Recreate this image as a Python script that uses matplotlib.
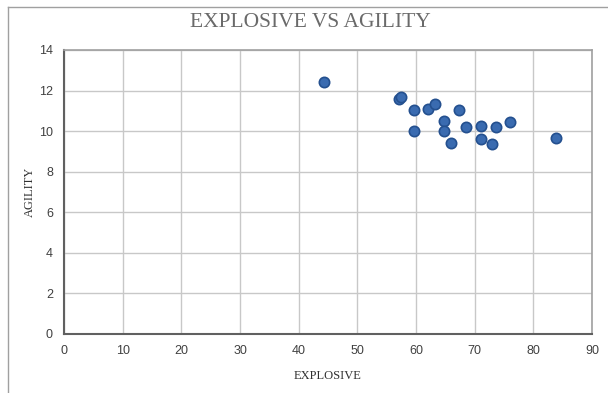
import matplotlib
matplotlib.use('Agg')
import matplotlib.pyplot as plt
from matplotlib.lines import Line2D

# scatter data
explosive = [44.3, 57.1, 57.4, 59.6, 59.6, 62.1, 63.3, 64.7, 64.7, 65.9,
             67.3, 68.5, 71.1, 71.1, 73.0, 73.7, 76.1, 83.8]
agility = [12.41, 11.59, 11.67, 11.04, 10.0, 11.11, 11.36, 10.51, 10.03, 9.42,
           11.04, 10.2, 10.23, 9.62, 9.36, 10.2, 10.43, 9.65]
x_ticks = list(range(0, 91, 10))
y_ticks = list(range(0, 15, 2))

fig = plt.figure(figsize=(6.08, 3.93), dpi=100)
ax = fig.add_axes([64/608, 1 - 334/393, (592 - 64)/608, (334 - 50)/393])

ax.scatter(explosive, agility, s=55, color='#3A6BB0', edgecolors='#24508F',
           linewidths=1.2, zorder=3)

ax.set_xlim(0, 90)
ax.set_ylim(0, 14)
ax.set_xticks(x_ticks)
ax.set_yticks(y_ticks)
ax.grid(True, color='#C8C8C8', linewidth=1, zorder=0)
ax.set_axisbelow(True)

for side in ['top', 'right']:
    ax.spines[side].set_color('#A0A0A0')
    ax.spines[side].set_linewidth(1.2)
for side in ['left', 'bottom']:
    ax.spines[side].set_color('#606060')
    ax.spines[side].set_linewidth(1.5)

ax.tick_params(axis='both', length=0, labelsize=9, labelcolor='#404040', pad=8)
for lbl in ax.get_xticklabels() + ax.get_yticklabels():
    lbl.set_fontfamily('Liberation Sans')

ax.set_xlabel('EXPLOSIVE', fontfamily='Liberation Serif', fontsize=9,
              color='#303030', labelpad=9)
ax.set_ylabel('AGILITY', fontfamily='Liberation Serif', fontsize=9,
              color='#303030', labelpad=2)

fig.text(310/608, 1 - 22.5/393, 'EXPLOSIVE VS AGILITY', ha='center', va='center',
         fontfamily='Liberation Serif', fontsize=15.5, color='#6A6A6A')

# outer chart frame (left and top edges only visible in the crop)
fig.add_artist(Line2D([8/608, 8/608], [0, 1 - 7/393], transform=fig.transFigure,
                      color='#A0A0A0', linewidth=1))
fig.add_artist(Line2D([8/608, 1], [1 - 7/393, 1 - 7/393], transform=fig.transFigure,
                      color='#A0A0A0', linewidth=1))

fig.savefig('out.png', dpi=100)
